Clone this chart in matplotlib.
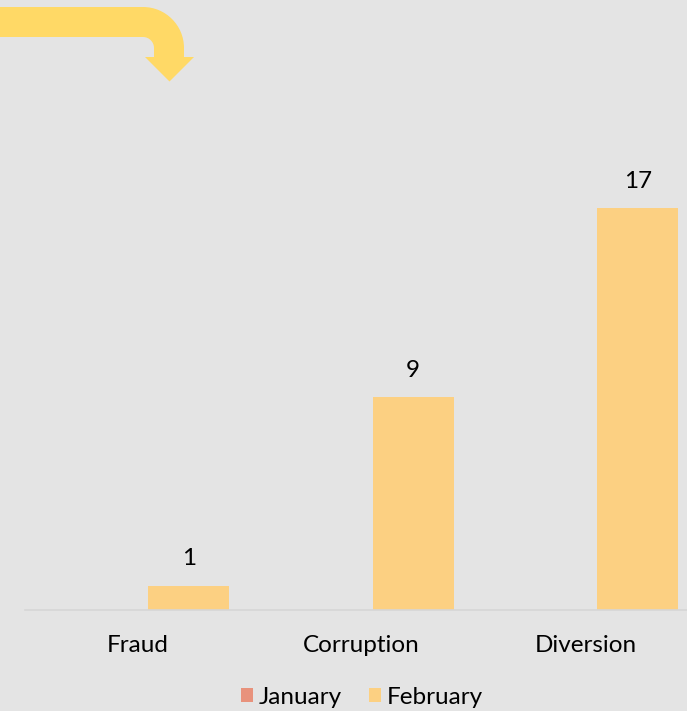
import matplotlib.pyplot as plt
from matplotlib.path import Path
from matplotlib.patches import PathPatch
from matplotlib.transforms import blended_transform_factory

categories = ["Fraud", "Corruption", "Diversion"]
january = [0, 0, 0]
february = [1, 9, 17]

bg = "#E4E4E4"
jan_color = "#E8927C"
feb_color = "#FCD082"
arrow_color = "#FFD966"

plt.rcParams['font.family'] = ['Lato', 'DejaVu Sans']
fs = 17.5

W, H = 687, 711
fig = plt.figure(figsize=(W / 100, H / 100), dpi=100, facecolor=bg)

# plot area (pixel geometry from the reference)
left, right = 25, 698.5
bottom, top = 609.5, 137.5
ax = fig.add_axes([left / W, 1 - bottom / H, (right - left) / W, (bottom - top) / H])
ax.set_facecolor(bg)

x = list(range(len(categories)))
off, bw = 0.229, 0.361
ax.bar([i - off for i in x], january, width=bw, color=jan_color, label="January")
bars = ax.bar([i + off for i in x], february, width=bw, color=feb_color, label="February")

for b, v in zip(bars, february):
    ax.annotate(str(v), (b.get_x() + b.get_width() / 2, v), xytext=(0, 19.4),
                textcoords="offset points", ha="center", va="center", fontsize=fs, color="#000000")

ax.set_xlim(-0.5, 2.5)
ax.set_ylim(0, 20)
for s in ["top", "left", "right"]:
    ax.spines[s].set_visible(False)
ax.spines["bottom"].set_color("#D6D6D6")
ax.spines["bottom"].set_linewidth(1.2)
ax.set_yticks([])
ax.set_xticks([])

# category labels
tr = blended_transform_factory(ax.transData, fig.transFigure)
for i, c in zip(x, categories):
    ax.text(i, 1 - 652 / H, c, transform=tr, ha="center", va="baseline", fontsize=fs, color="#000000")

fig.legend(loc="center", bbox_to_anchor=((left + right) / 2 / W, 1 - 697 / H), ncol=2, frameon=False,
           fontsize=fs, handlelength=0.5, handleheight=0.5, handletextpad=0.25, columnspacing=1.1,
           borderpad=0, borderaxespad=0)

# curved arrow decoration top left
oax = fig.add_axes([0, 0, 1, 1], zorder=5)
oax.set_xlim(0, W)
oax.set_ylim(H, 0)
oax.axis("off")
k = 0.5523
cx, cy, ro, ri = 143, 48, 41, 11
verts = [
    (0, 7), (cx, 7),
    (cx + k * ro, 7), (cx + ro, cy - k * ro), (cx + ro, cy),
    (cx + ro, 57), (194, 57), (169.5, 81.5), (145, 57), (cx + ri, 57),
    (cx + ri, cy),
    (cx + ri, cy - k * ri), (cx + k * ri, 37), (cx, 37),
    (0, 37), (0, 7),
]
codes = [Path.MOVETO, Path.LINETO,
         Path.CURVE4, Path.CURVE4, Path.CURVE4,
         Path.LINETO, Path.LINETO, Path.LINETO, Path.LINETO, Path.LINETO,
         Path.LINETO,
         Path.CURVE4, Path.CURVE4, Path.CURVE4,
         Path.LINETO, Path.CLOSEPOLY]
oax.add_patch(PathPatch(Path(verts, codes), facecolor=arrow_color, edgecolor="none"))

fig.savefig("out.png", dpi=100, facecolor=bg)
